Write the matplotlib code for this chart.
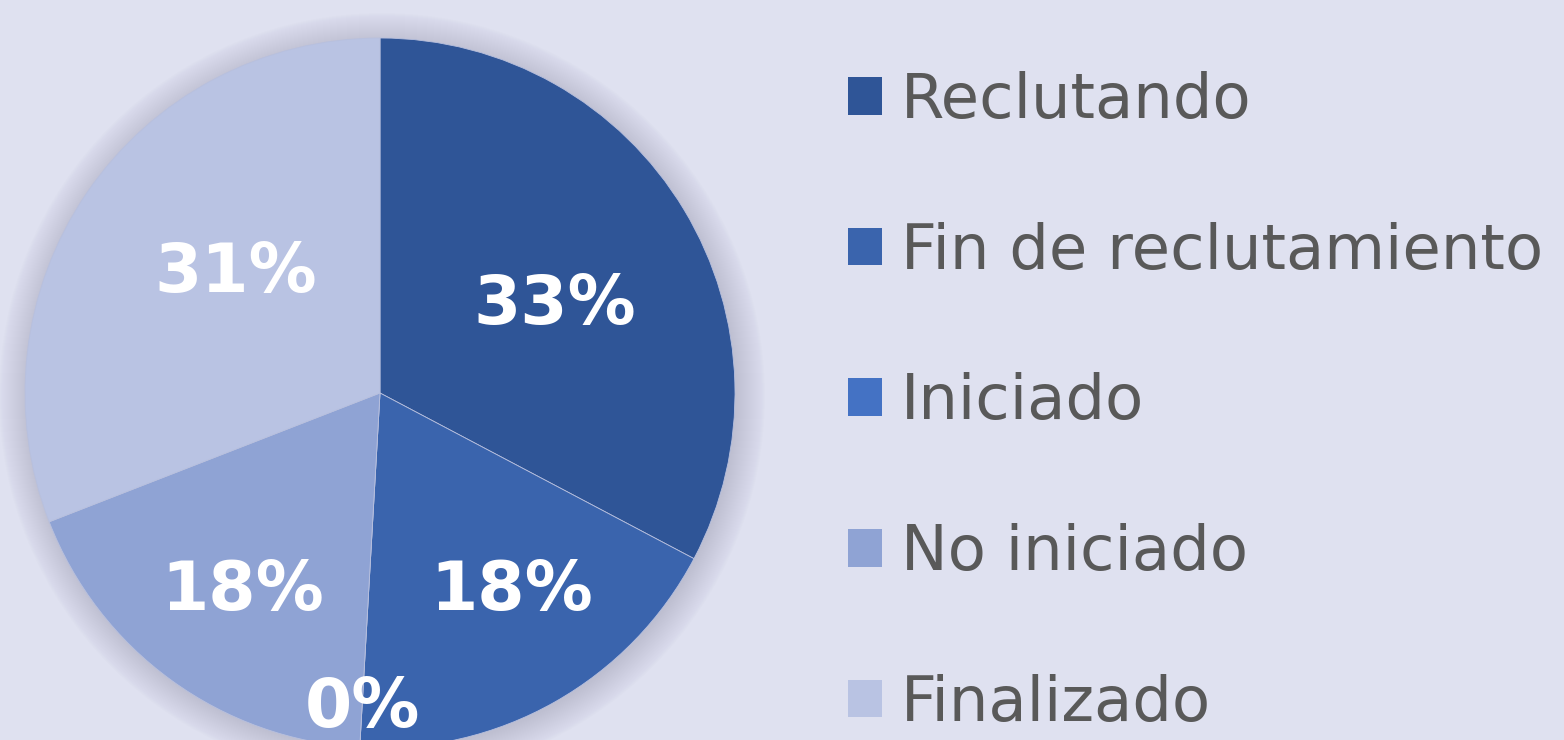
import matplotlib
matplotlib.use("Agg")
import matplotlib.pyplot as plt
from matplotlib.patches import Circle, Patch
import numpy as np

categories = ['Reclutando', 'Fin de reclutamiento', 'Iniciado', 'No iniciado', 'Finalizado']
counts = [18, 10, 0, 10, 17]
colors = ['#2F5597', '#3A64AD', '#4472C4', '#8FA3D4', '#B9C3E3']
# label placement (fraction of radius, angle shift in degrees)
label_dist = [0.55, 0.67, 0.89, 0.68, 0.53]
label_shift = [-4.4, 4.3, 0.0, 1.2, -5.4]

bg = '#DFE1F0'
W, H = 1564, 740

fig = plt.figure(figsize=(W / 100, H / 100), dpi=100, facecolor=bg)
ax = fig.add_axes([0, 0, 1, 1])
ax.set_facecolor(bg)

cx, cy, R = 380, H - 393, 355

# soft shadow behind the pie
for i in range(30):
    ax.add_patch(Circle((cx + 2, cy - 3), R + 28 - i, color='#5a5a70',
                        alpha=0.009, lw=0, zorder=1))

wedges, _ = ax.pie(counts, colors=colors, startangle=90, counterclock=False,
                   center=(cx, cy), radius=R, frame=True,
                   wedgeprops=dict(linewidth=0.6, edgecolor='#b8c0de', zorder=2))
ax.set_xlim(0, W)
ax.set_ylim(0, H)
ax.set_aspect('equal')
ax.axis('off')

total = sum(counts)
for w, v, d, s in zip(wedges, counts, label_dist, label_shift):
    mid = np.deg2rad((w.theta1 + w.theta2) / 2 + s)
    x = cx + d * R * np.cos(mid)
    y = cy + d * R * np.sin(mid)
    ax.text(x, y, '%d%%' % round(v / total * 100), ha='center', va='center',
            color='white', fontsize=49, fontweight='bold', zorder=5)

handles = [Patch(facecolor=c, edgecolor='none') for c in colors]
leg = fig.legend(handles, categories, loc='upper left', bbox_to_anchor=(848 / W, 1 - 71 / H),
                 frameon=False, fontsize=45, labelcolor='#595959',
                 handlelength=0.55, handleheight=0.55, handletextpad=0.3,
                 labelspacing=1.45, borderpad=0, borderaxespad=0)

fig.savefig('out.png', dpi=100, facecolor=bg)
